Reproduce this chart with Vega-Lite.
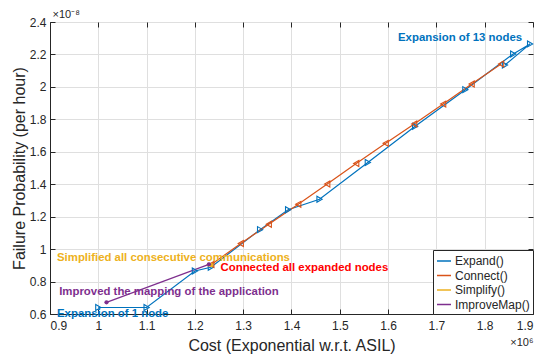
{
  "$schema": "https://vega.github.io/schema/vega-lite/v6.json",
  "width": 483,
  "height": 292,
  "autosize": "none",
  "padding": {"left": 50, "top": 22, "right": 7, "bottom": 44},
  "background": "white",
  "config": {
    "view": {"stroke": "#262626", "strokeWidth": 1},
    "font": "Liberation Sans",
    "axis": {
      "labelFont": "Liberation Sans",
      "labelColor": "#262626",
      "labelFontSize": 12,
      "titleFont": "Liberation Sans",
      "titleColor": "#262626",
      "titleFontWeight": "normal",
      "tickColor": "#262626",
      "domainColor": "#262626",
      "gridColor": "#dfdfdf",
      "gridOpacity": 1,
      "tickSize": -5
    }
  },
  "resolve": {"axis": {"x": "independent", "y": "independent"}},
  "datasets": {
    "series": [
      {"series": "Expand", "order": 1, "cost": 1.0, "prob": 0.64},
      {"series": "Expand", "order": 2, "cost": 1.1, "prob": 0.64},
      {"series": "Expand", "order": 3, "cost": 1.2, "prob": 0.865},
      {"series": "Expand", "order": 4, "cost": 1.233, "prob": 0.888},
      {"series": "Expand", "order": 5, "cost": 1.335, "prob": 1.12},
      {"series": "Expand", "order": 6, "cost": 1.393, "prob": 1.243},
      {"series": "Expand", "order": 7, "cost": 1.458, "prob": 1.307},
      {"series": "Expand", "order": 8, "cost": 1.558, "prob": 1.534},
      {"series": "Expand", "order": 9, "cost": 1.656, "prob": 1.757},
      {"series": "Expand", "order": 10, "cost": 1.76, "prob": 1.983},
      {"series": "Expand", "order": 11, "cost": 1.859, "prob": 2.203},
      {"series": "Expand", "order": 12, "cost": 1.894, "prob": 2.265},
      {"series": "Expand", "order": 13, "cost": 1.842, "prob": 2.135},
      {"series": "Connect", "order": 1, "cost": 1.234, "prob": 0.905},
      {"series": "Connect", "order": 2, "cost": 1.295, "prob": 1.035},
      {"series": "Connect", "order": 3, "cost": 1.353, "prob": 1.153},
      {"series": "Connect", "order": 4, "cost": 1.414, "prob": 1.276},
      {"series": "Connect", "order": 5, "cost": 1.474, "prob": 1.401},
      {"series": "Connect", "order": 6, "cost": 1.534, "prob": 1.528},
      {"series": "Connect", "order": 7, "cost": 1.595, "prob": 1.652},
      {"series": "Connect", "order": 8, "cost": 1.654, "prob": 1.771},
      {"series": "Connect", "order": 9, "cost": 1.714, "prob": 1.894},
      {"series": "Connect", "order": 10, "cost": 1.773, "prob": 2.018},
      {"series": "Connect", "order": 11, "cost": 1.834, "prob": 2.141},
      {"series": "Simplify", "order": 1, "cost": 1.229, "prob": 0.905},
      {"series": "Simplify", "order": 2, "cost": 1.234, "prob": 0.902},
      {"series": "ImproveMap", "order": 1, "cost": 1.017, "prob": 0.672},
      {"series": "ImproveMap", "order": 2, "cost": 1.229, "prob": 0.906}
    ],
    "notes": [
      {"kind": "expand", "label": "Expansion of 13 nodes", "cost": 1.6205, "prob": 2.303},
      {"kind": "simplify", "label": "Simplified all consecutive communications", "cost": 0.9145, "prob": 0.945},
      {"kind": "connect", "label": "Connected all expanded nodes", "cost": 1.253, "prob": 0.882},
      {"kind": "improve", "label": "Improved the mapping of the application", "cost": 0.919, "prob": 0.737},
      {"kind": "expand", "label": "Expansion of 1 node", "cost": 0.9145, "prob": 0.598}
    ]
  },
  "layer": [
    {
      "data": {"name": "series"},
      "mark": {"type": "line", "strokeWidth": 1.2},
      "encoding": {
        "x": {
          "field": "cost", "type": "quantitative",
          "scale": {"domain": [0.9, 1.9], "nice": false, "zero": false},
          "axis": {
            "orient": "bottom",
            "values": [0.9, 1.0, 1.1, 1.2, 1.3, 1.4, 1.5, 1.6, 1.7, 1.8, 1.9],
            "format": "~g",
            "grid": true,
            "labelPadding": 11,
            "title": "Cost (Exponential w.r.t. ASIL)",
            "titleFontSize": 16,
            "titlePadding": 6
          }
        },
        "y": {
          "field": "prob", "type": "quantitative",
          "scale": {"domain": [0.6, 2.4], "nice": false, "zero": false},
          "axis": {
            "orient": "left",
            "values": [0.6, 0.8, 1.0, 1.2, 1.4, 1.6, 1.8, 2.0, 2.2, 2.4],
            "format": "~g",
            "grid": true,
            "labelPadding": 9,
            "title": "Failure Probability (per hour)",
            "titleFontSize": 16,
            "titlePadding": 2
          }
        },
        "color": {
          "field": "series", "type": "nominal",
          "scale": {
            "domain": ["Expand", "Connect", "Simplify", "ImproveMap"],
            "range": ["#0072BD", "#D95319", "#EDB120", "#7E2F8E"]
          },
          "legend": {
            "title": null,
            "orient": "bottom-right",
            "offset": 0,
            "symbolType": "stroke",
            "symbolSize": 196,
            "symbolStrokeWidth": 1.5,
            "labelFontSize": 12,
            "labelFont": "Liberation Sans",
            "labelColor": "#262626",
            "labelExpr": "datum.label + '()'",
            "labelOffset": 3,
            "rowPadding": 0.5,
            "padding": 3,
            "strokeColor": "#262626",
            "fillColor": "white",
            "cornerRadius": 0
          }
        },
        "order": {"field": "order", "type": "quantitative"}
      }
    },
    {
      "data": {"name": "series"},
      "transform": [{"filter": "datum.series === 'Expand' || datum.series === 'Connect'"}],
      "mark": {"type": "point", "filled": false, "strokeWidth": 1.1, "size": 36, "opacity": 1},
      "encoding": {
        "x": {
          "field": "cost", "type": "quantitative",
          "axis": {"orient": "top", "labels": false, "grid": false, "domain": false,
            "values": [0.9, 1.0, 1.1, 1.2, 1.3, 1.4, 1.5, 1.6, 1.7, 1.8, 1.9],
            "title": "×10⁻⁸", "titleFontSize": 11, "titleAnchor": "start", "titleAlign": "left", "titleX": 2, "titleY": -3, "titleBaseline": "bottom"}
        },
        "y": {
          "field": "prob", "type": "quantitative",
          "axis": {"orient": "right", "labels": false, "grid": false, "domain": false,
            "values": [0.6, 0.8, 1.0, 1.2, 1.4, 1.6, 1.8, 2.0, 2.2, 2.4],
            "title": "×10⁶", "titleFontSize": 11, "titleAngle": 0, "titleAlign": "right", "titleX": 0, "titleY": 320, "titleBaseline": "middle"}
        },
        "color": {"field": "series", "type": "nominal"},
        "shape": {
          "field": "series", "type": "nominal",
          "scale": {"domain": ["Expand", "Connect"], "range": ["triangle-right", "triangle-left"]},
          "legend": null
        }
      }
    },
    {
      "data": {"name": "series"},
      "transform": [{"filter": "datum.series === 'Simplify' || datum.series === 'ImproveMap'"}],
      "mark": {"type": "circle", "size": 18, "opacity": 1},
      "encoding": {
        "x": {"field": "cost", "type": "quantitative", "axis": null},
        "y": {"field": "prob", "type": "quantitative", "axis": null},
        "color": {"field": "series", "type": "nominal"}
      }
    },
    {
      "data": {"name": "notes"},
      "mark": {"type": "text", "align": "left", "baseline": "middle", "fontWeight": "bold", "fontSize": 11.4, "font": "Liberation Sans"},
      "encoding": {
        "x": {"field": "cost", "type": "quantitative", "axis": null},
        "y": {"field": "prob", "type": "quantitative", "axis": null},
        "text": {"field": "label"},
        "fill": {
          "field": "kind", "type": "nominal",
          "scale": {"domain": ["expand", "simplify", "connect", "improve"], "range": ["#0072BD", "#EDB120", "#FF0000", "#7E2F8E"]},
          "legend": null
        }
      }
    }
  ]
}
